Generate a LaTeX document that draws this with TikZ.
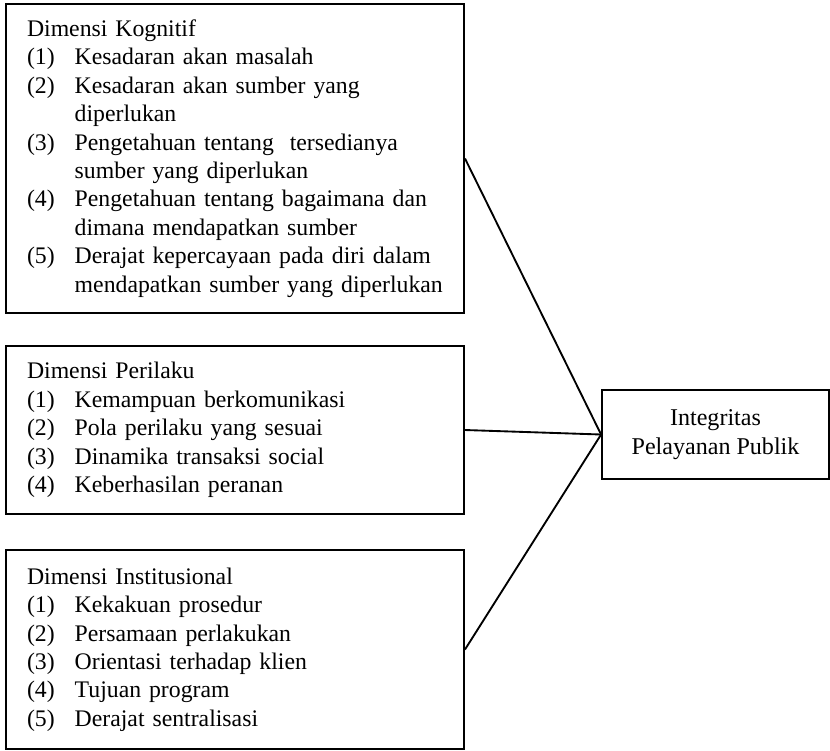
\documentclass[tikz,border=0pt]{standalone}
\usepackage{fontspec}
\setmainfont{Liberation Serif}
\usetikzlibrary{positioning}
\newcommand{\nr}[2]{\mbox{\makebox[23pt][l]{#1}#2}}
\newcommand{\cont}[1]{\mbox{\hspace*{23pt}#1}}

\begin{document}
\begin{tikzpicture}[x=0.482pt, y=-0.482pt, line width=0.9pt,
  dimbox/.style={draw, rectangle, minimum width=220.8pt, text width=200.5pt, inner xsep=10.1pt, align=left, font=\fontsize{11.45}{13.7}\selectfont},
  hasilbox/.style={draw, rectangle, minimum width=109.4pt, minimum height=42.9pt, align=center, font=\fontsize{11.6}{14}\selectfont}]

\useasboundingbox (0,0) rectangle (830,750);

\node[dimbox, minimum height=148.9pt] (kognitif) at (235, 158.5) {Dimensi Kognitif\\
  \nr{(1)}{Kesadaran akan masalah}\\
  \nr{(2)}{Kesadaran akan sumber yang}\\
  \cont{diperlukan}\\
  \nr{(3)}{Pengetahuan tentang\ \ tersedianya}\\
  \cont{sumber yang diperlukan}\\
  \nr{(4)}{Pengetahuan tentang bagaimana dan}\\
  \cont{dimana mendapatkan sumber}\\
  \nr{(5)}{Derajat kepercayaan pada diri dalam}\\
  \cont{mendapatkan sumber yang diperlukan}};

\node[dimbox, minimum height=81pt] (perilaku) at (235, 430) {Dimensi Perilaku\\
  \nr{(1)}{Kemampuan berkomunikasi}\\
  \nr{(2)}{Pola perilaku yang sesuai}\\
  \nr{(3)}{Dinamika transaksi social}\\
  \nr{(4)}{Keberhasilan peranan}};

\node[dimbox, minimum height=95.9pt] (institusional) at (235, 649.5) {Dimensi Institusional\\
  \nr{(1)}{Kekakuan prosedur}\\
  \nr{(2)}{Persamaan perlakukan}\\
  \nr{(3)}{Orientasi terhadap klien}\\
  \nr{(4)}{Tujuan program}\\
  \nr{(5)}{Derajat sentralisasi}};

\node[hasilbox] (integritas) at (715.5, 434.5) {Integritas\\Pelayanan Publik};

\draw (kognitif.east) -- (integritas.west);
\draw (perilaku.east) -- (integritas.west);
\draw (institusional.east) -- (integritas.west);

\end{tikzpicture}
\end{document}
